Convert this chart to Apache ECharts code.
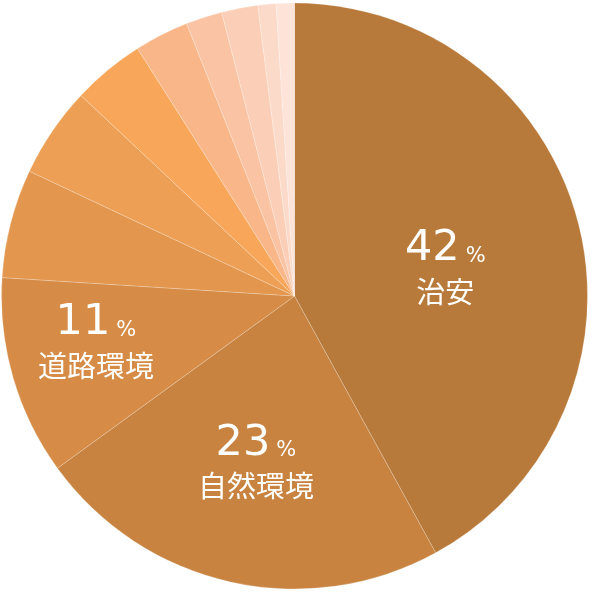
<!DOCTYPE html>
<html>
<head>
<meta charset="utf-8">
<script src="https://cdn.jsdelivr.net/npm/echarts@6/dist/echarts.min.js"></script>
<style>
  html, body { margin: 0; padding: 0; background: #fff; }
  #main { width: 592px; height: 592px; }
</style>
</head>
<body>
<div id="main"></div>
<script>
// 项目名称和占比（%）
var names = ['治安', '自然環境', '道路環境', '項目4', '項目5', '項目6', '項目7', '項目8', '項目9', '項目10', '項目11'];
var values = [42, 23, 11, 6, 5, 4, 3, 2, 2, 1, 1];
var labelled = [true, true, true, false, false, false, false, false, false, false, false];

var colors = ['#b87a3a', '#c7833f', '#d68c46', '#e2964e', '#eda055', '#f8a75a',
              '#f9b688', '#fac3a3', '#fbcfb7', '#fcdaca', '#fde3d8'];
// 标签微调
var nudge = [[6, 12], [-6, 23], [-55, 7]];

var myChart = echarts.init(document.getElementById('main'));

var seriesData = names.map(function (n, i) {
    return {
        name: n,
        value: values[i],
        itemStyle: { color: colors[i] },
        label: { show: labelled[i] }
    };
});

option = {
    animation: false,
    series: [{
        type: 'pie',
        center: [294.5, 296],
        radius: [0, 293],
        startAngle: 90,
        clockwise: true,
        avoidLabelOverlap: false,
        itemStyle: {
            borderColor: 'rgba(255,255,255,0.35)',
            borderWidth: 0.6
        },
        label: {
            show: true,
            position: 'inside',
            formatter: function (p) {
                return '{num|' + p.value + '}{pct|%}\n{name|' + p.name + '}';
            },
            rich: {
                num: {
                    color: '#fff',
                    fontSize: 43,
                    fontFamily: 'DejaVu Sans',
                    lineHeight: 42,
                    verticalAlign: 'bottom'
                },
                pct: {
                    color: '#fff',
                    fontSize: 21,
                    fontFamily: 'DejaVu Sans',
                    lineHeight: 42,
                    padding: [0, 0, 4, 6],
                    verticalAlign: 'bottom'
                },
                name: {
                    color: '#fff',
                    fontSize: 29,
                    fontFamily: 'Noto Sans CJK JP',
                    lineHeight: 42
                }
            }
        },
        labelLine: { show: false },
        emphasis: { disabled: true },
        labelLayout: function (p) {
            var d = nudge[p.dataIndex];
            return d ? { dx: d[0], dy: d[1] } : {};
        },
        data: seriesData
    }]
};

myChart.setOption(option);
</script>
</body>
</html>
